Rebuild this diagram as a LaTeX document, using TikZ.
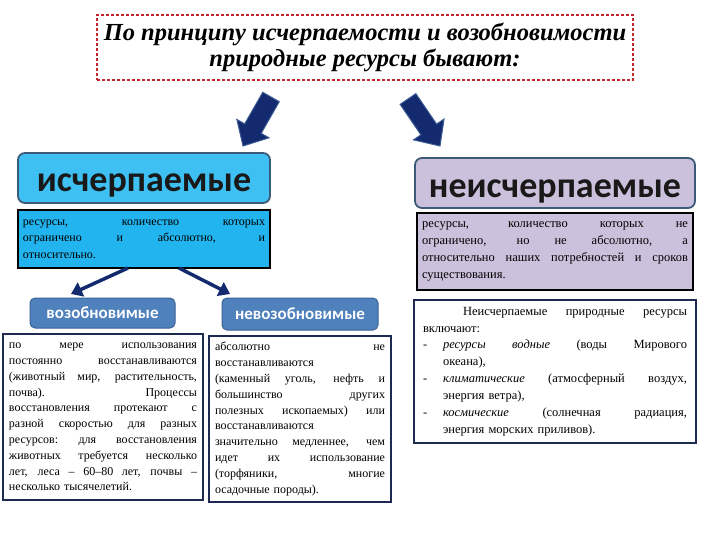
\documentclass[tikz,border=0pt]{standalone}
\usepackage{fontspec}
\setmainfont{Liberation Serif}
\newfontfamily\hfont{Carlito}
\usetikzlibrary{calc,arrows.meta}
\definecolor{tred}{HTML}{C0262C}
\definecolor{hline}{HTML}{3D5A78}
\definecolor{lblue}{HTML}{3EC0F2}
\definecolor{dblue}{HTML}{22B4EE}
\definecolor{lav}{HTML}{CCC1DC}
\definecolor{subblue}{HTML}{4F81BD}
\definecolor{subline}{HTML}{3B6396}
\definecolor{navy}{HTML}{132A6E}
\definecolor{arrline}{HTML}{3B5A92}
\definecolor{boxline}{HTML}{1F2A50}
\newcommand\jl[1]{\leavevmode\hbox to\linewidth{\spaceskip=0.3em plus 1fil\relax\xspaceskip=0.35em plus 1fil\relax #1}}
\newcommand\blockarrow[3]{%
  \coordinate (#3h) at ($(#2)!20pt!(#1)$);
  \filldraw[fill=navy, draw=arrline, line width=1pt, line join=miter]
    ($(#1)!9.5pt!90:(#2)$) -- ($(#3h)!9.5pt!-90:(#1)$) -- ($(#3h)!18.5pt!-90:(#1)$)
    -- (#2) -- ($(#3h)!18.5pt!90:(#1)$) -- ($(#3h)!9.5pt!90:(#1)$)
    -- ($(#1)!9.5pt!-90:(#2)$) -- cycle;}
\begin{document}
\begin{tikzpicture}[x=1pt,y=-1pt,
  titlebox/.style={draw=tred, line width=2.2pt, dash pattern=on 3pt off 2pt, fill=white,
    minimum width=536, minimum height=65, inner sep=0, align=center,
    font=\fontsize{24.5}{25.5}\selectfont\bfseries\itshape},
  headbox/.style={draw=hline, line width=1.8pt, rounded corners=7pt, inner sep=0,
    text height=28pt, text depth=0pt,
    text=black!90, font=\hfont\bfseries\fontsize{36}{40}\selectfont},
  descbox/.style={draw=black, line width=2pt, inner xsep=5pt, inner ysep=0, align=left,
    font=\fontsize{12}{16.5}\selectfont},
  subbox/.style={draw=subline, fill=subblue, rounded corners=5pt, text=white, line width=1pt,
    inner sep=0, font=\hfont\bfseries\fontsize{17}{20}\selectfont},
  textbox/.style={draw=boxline, line width=1.8pt, fill=white, inner xsep=6pt, inner ysep=0,
    align=left, font=\fontsize{12}{15.8}\selectfont},
  smallarrow/.style={draw=navy, line width=3.5pt, -{Triangle[length=11pt,width=15pt]}}
]
\useasboundingbox[fill=white] (0,0) rectangle (720,540);

% title
\node[titlebox] (title) at (365,47.5) {По принципу исчерпаемости и возобновимости\\природные ресурсы бывают:};

% headings
\node[headbox, fill=lblue, minimum width=252, minimum height=50] (h1) at (144,178) {исчерпаемые};
\node[headbox, fill=lav, minimum width=280, minimum height=50] (h2) at (555,183) {неисчерпаемые};

% big arrows
\coordinate (a1s) at (271,97);
\coordinate (a1e) at (243,146);
\coordinate (a2s) at (408,99);
\coordinate (a2e) at (440,146);
\blockarrow{a1s}{a1e}{ba1}
\blockarrow{a2s}{a2e}{ba2}

% descriptions
\node[descbox, fill=dblue, text width=242, minimum height=58] (d1) at (144,239)
 {\jl{ресурсы, количество которых}\\\jl{ограничено и абсолютно, и}\\относительно.};
\node[descbox, line width=2.6pt, fill=lav, text width=266, minimum height=77, font=\fontsize{12.5}{17}\selectfont] (d2) at (555,251.5)
 {\jl{ресурсы, количество которых не}\\\jl{ограничено, но не абсолютно, а}\\\jl{относительно наших потребностей и сроков}\\существования.};

% sub headings
\node[subbox, minimum width=145, minimum height=30] (s1) at (102.5,313) {возобновимые};
\node[subbox, minimum width=156, minimum height=32] (s2) at (300,314) {невозобновимые};

% small arrows
\coordinate (sa1) at (128,268);
\coordinate (sb1) at (71,294);
\coordinate (sa2) at (179,268);
\coordinate (sb2) at (230,294);
\draw[smallarrow] (sa1) -- (sb1);
\draw[smallarrow] (sa2) -- (sb2);

% text boxes
\node[textbox, text width=188, minimum height=166] (b1) at (103,417)
 {\jl{по мере использования}\\
  \jl{постоянно восстанавливаются}\\
  \jl{(животный мир, растительность,}\\
  \jl{почва). Процессы}\\
  \jl{восстановления протекают с}\\
  \jl{разной скоростью для разных}\\
  \jl{ресурсов: для восстановления}\\
  \jl{животных требуется несколько}\\
  \jl{лет, леса – 60–80 лет, почвы –}\\
  несколько тысячелетий.};
\node[textbox, text width=170, minimum height=166] (b2) at (300,419)
 {\jl{абсолютно не}\\
  восстанавливаются\\
  \jl{(каменный уголь, нефть и}\\
  \jl{большинство других}\\
  \jl{полезных ископаемых) или}\\
  восстанавливаются\\
  \jl{значительно медленнее, чем}\\
  \jl{идет их использование}\\
  \jl{(торфяники, многие}\\
  осадочные породы).};
\node[textbox, text width=264, inner xsep=9pt, minimum height=143, font=\fontsize{12.5}{16.9}\selectfont] (b3) at (555,371.5)
 {\jl{\hspace*{40pt}Неисчерпаемые природные ресурсы}\\
  включают:\\
  \jl{\makebox[20pt][l]{-}\textit{ресурсы} \textit{водные} (воды Мирового}\\
  \hspace*{20pt}океана),\\
  \jl{\makebox[20pt][l]{-}\textit{климатические} (атмосферный воздух,}\\
  \hspace*{20pt}энергия ветра),\\
  \jl{\makebox[20pt][l]{-}\textit{космические} (солнечная радиация,}\\
  \hspace*{20pt}энергия морских приливов).};
\end{tikzpicture}
\end{document}
